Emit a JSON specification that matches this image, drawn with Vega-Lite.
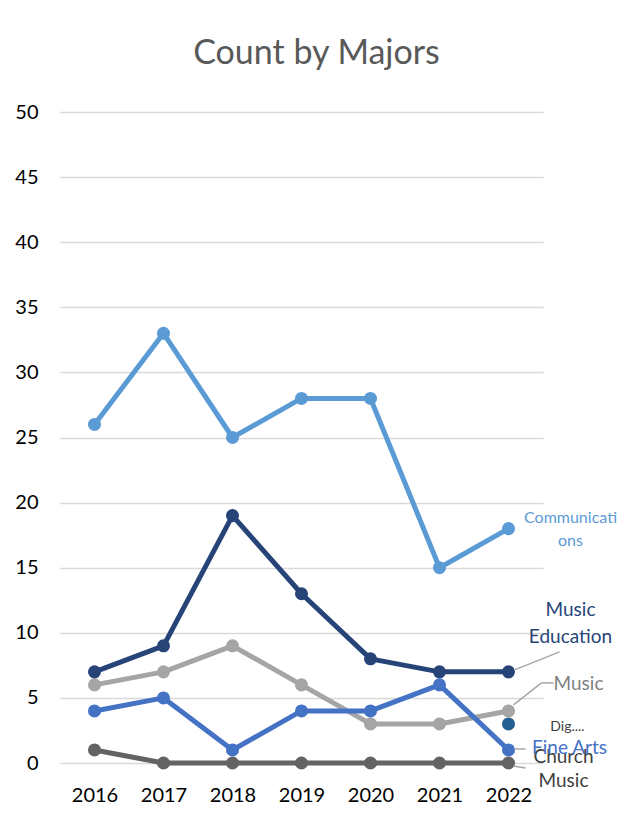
{
  "$schema": "https://vega.github.io/schema/vega-lite/v6.json",
  "width": 483,
  "height": 651,
  "autosize": {"type": "none"},
  "padding": {"left": 60, "top": 112, "right": 78, "bottom": 60},
  "background": "white",
  "title": {
    "text": "Count by Majors",
    "fontSize": 34,
    "font": "Lato",
    "fontWeight": "normal",
    "color": "#595959",
    "anchor": "middle",
    "dx": 15,
    "offset": 31
  },
  "config": {
    "view": {"stroke": null},
    "font": "Lato",
    "axis": {
      "labelFont": "Lato",
      "labelFontSize": 20,
      "labelColor": "#000000",
      "domain": false,
      "ticks": false,
      "title": null
    }
  },
  "datasets": {
    "series": [
      {"year": "2016", "major": "Church Music", "count": 1},
      {"year": "2017", "major": "Church Music", "count": 0},
      {"year": "2018", "major": "Church Music", "count": 0},
      {"year": "2019", "major": "Church Music", "count": 0},
      {"year": "2020", "major": "Church Music", "count": 0},
      {"year": "2021", "major": "Church Music", "count": 0},
      {"year": "2022", "major": "Church Music", "count": 0},
      {"year": "2016", "major": "Music", "count": 6},
      {"year": "2017", "major": "Music", "count": 7},
      {"year": "2018", "major": "Music", "count": 9},
      {"year": "2019", "major": "Music", "count": 6},
      {"year": "2020", "major": "Music", "count": 3},
      {"year": "2021", "major": "Music", "count": 3},
      {"year": "2022", "major": "Music", "count": 4},
      {"year": "2016", "major": "Music Education", "count": 7},
      {"year": "2017", "major": "Music Education", "count": 9},
      {"year": "2018", "major": "Music Education", "count": 19},
      {"year": "2019", "major": "Music Education", "count": 13},
      {"year": "2020", "major": "Music Education", "count": 8},
      {"year": "2021", "major": "Music Education", "count": 7},
      {"year": "2022", "major": "Music Education", "count": 7},
      {"year": "2016", "major": "Fine Arts", "count": 4},
      {"year": "2017", "major": "Fine Arts", "count": 5},
      {"year": "2018", "major": "Fine Arts", "count": 1},
      {"year": "2019", "major": "Fine Arts", "count": 4},
      {"year": "2020", "major": "Fine Arts", "count": 4},
      {"year": "2021", "major": "Fine Arts", "count": 6},
      {"year": "2022", "major": "Fine Arts", "count": 1},
      {"year": "2016", "major": "Communications", "count": 26},
      {"year": "2017", "major": "Communications", "count": 33},
      {"year": "2018", "major": "Communications", "count": 25},
      {"year": "2019", "major": "Communications", "count": 28},
      {"year": "2020", "major": "Communications", "count": 28},
      {"year": "2021", "major": "Communications", "count": 15},
      {"year": "2022", "major": "Communications", "count": 18},
      {"year": "2022", "major": "Dig....", "count": 3}
    ],
    "labels": [
      {"year": "2022", "major": "Communications", "count": 18, "label": "Communicati\nons"},
      {"year": "2022", "major": "Music Education", "count": 7, "label": "Music\nEducation"},
      {"year": "2022", "major": "Music", "count": 4, "label": "Music"},
      {"year": "2022", "major": "Dig....", "count": 3, "label": "Dig...."},
      {"year": "2022", "major": "Fine Arts", "count": 1, "label": "Fine Arts"},
      {"year": "2022", "major": "Church Music", "count": 0, "label": "Church\nMusic"}
    ]
  },
  "encoding": {
    "x": {
      "field": "year",
      "type": "ordinal",
      "scale": {"type": "point", "padding": 0.5},
      "axis": {"labelAngle": 0, "labelPadding": 22, "grid": false}
    },
    "y": {
      "field": "count",
      "type": "quantitative",
      "scale": {"domain": [0, 50], "nice": false},
      "axis": {
        "values": [0, 5, 10, 15, 20, 25, 30, 35, 40, 45, 50],
        "labelPadding": 22,
        "grid": true,
        "gridColor": "#D9D9D9",
        "gridWidth": 1.5
      }
    }
  },
  "layer": [
    {
      "data": {"name": "series"},
      "mark": {"type": "line", "strokeWidth": 5, "strokeCap": "round", "strokeJoin": "round"},
      "encoding": {
        "color": {
          "field": "major",
          "type": "nominal",
          "scale": {
            "domain": ["Church Music", "Music", "Music Education", "Fine Arts", "Communications", "Dig...."],
            "range": ["#636363", "#A5A5A5", "#264478", "#4472C4", "#5B9BD5", "#255E91"]
          },
          "legend": null
        },
        "detail": {"field": "major"}
      }
    },
    {
      "data": {"name": "series"},
      "mark": {"type": "point", "filled": true, "opacity": 1, "size": 170},
      "encoding": {
        "color": {"field": "major", "type": "nominal", "legend": null}
      }
    },
    {
      "data": {"name": "labels"},
      "transform": [{"filter": "datum.major === 'Music Education'"}],
      "mark": {"type": "rule", "color": "#A6A6A6", "strokeWidth": 1.5, "xOffset": 6, "yOffset": -2, "x2Offset": 51, "y2Offset": -20},
      "encoding": {"x2": {"field": "year"}, "y2": {"field": "count"}}
    },
    {
      "data": {"name": "labels"},
      "transform": [{"filter": "datum.major === 'Music'"}],
      "mark": {"type": "rule", "color": "#A6A6A6", "strokeWidth": 1.5, "xOffset": 5, "yOffset": -6, "x2Offset": 33, "y2Offset": -28},
      "encoding": {"x2": {"field": "year"}, "y2": {"field": "count"}}
    },
    {
      "data": {"name": "labels"},
      "transform": [{"filter": "datum.major === 'Music'"}],
      "mark": {"type": "rule", "color": "#A6A6A6", "strokeWidth": 1.5, "xOffset": 33, "yOffset": -28, "x2Offset": 45, "y2Offset": -28},
      "encoding": {"x2": {"field": "year"}, "y2": {"field": "count"}}
    },
    {
      "data": {"name": "labels"},
      "transform": [{"filter": "datum.major === 'Fine Arts'"}],
      "mark": {"type": "rule", "color": "#A6A6A6", "strokeWidth": 1.5, "xOffset": 6, "yOffset": -1, "x2Offset": 17, "y2Offset": -1},
      "encoding": {"x2": {"field": "year"}, "y2": {"field": "count"}}
    },
    {
      "data": {"name": "labels"},
      "transform": [{"filter": "datum.major === 'Church Music'"}],
      "mark": {"type": "rule", "color": "#A6A6A6", "strokeWidth": 1.5, "xOffset": 5, "yOffset": 3, "x2Offset": 17, "y2Offset": 5},
      "encoding": {"x2": {"field": "year"}, "y2": {"field": "count"}}
    },
    {
      "data": {"name": "labels"},
      "transform": [{"filter": "datum.major === 'Communications'"}],
      "mark": {"type": "text", "lineBreak": "\n", "fontSize": 16, "align": "center", "baseline": "middle", "dx": 62, "dy": -11, "lineHeight": 23, "color": "#5B9BD5"},
      "encoding": {"text": {"field": "label"}}
    },
    {
      "data": {"name": "labels"},
      "transform": [{"filter": "datum.major === 'Music Education'"}],
      "mark": {"type": "text", "lineBreak": "\n", "fontSize": 19, "align": "center", "baseline": "middle", "dx": 62, "dy": -62, "lineHeight": 27, "color": "#264478"},
      "encoding": {"text": {"field": "label"}}
    },
    {
      "data": {"name": "labels"},
      "transform": [{"filter": "datum.major === 'Music'"}],
      "mark": {"type": "text", "fontSize": 19, "align": "center", "baseline": "middle", "dx": 70, "dy": -27, "color": "#7F7F7F"},
      "encoding": {"text": {"field": "label"}}
    },
    {
      "data": {"name": "labels"},
      "transform": [{"filter": "datum.major === 'Dig....'"}],
      "mark": {"type": "text", "fontSize": 14, "align": "center", "baseline": "middle", "dx": 59, "dy": 3, "color": "#404040"},
      "encoding": {"text": {"field": "label"}}
    },
    {
      "data": {"name": "labels"},
      "transform": [{"filter": "datum.major === 'Church Music'"}],
      "mark": {"type": "text", "lineBreak": "\n", "fontSize": 19, "align": "center", "baseline": "middle", "dx": 55, "dy": -6, "lineHeight": 24, "color": "#404040"},
      "encoding": {"text": {"field": "label"}}
    },
    {
      "data": {"name": "labels"},
      "transform": [{"filter": "datum.major === 'Fine Arts'"}],
      "mark": {"type": "text", "fontSize": 19, "align": "center", "baseline": "middle", "dx": 61, "dy": -2, "color": "#4472C4"},
      "encoding": {"text": {"field": "label"}}
    }
  ]
}
